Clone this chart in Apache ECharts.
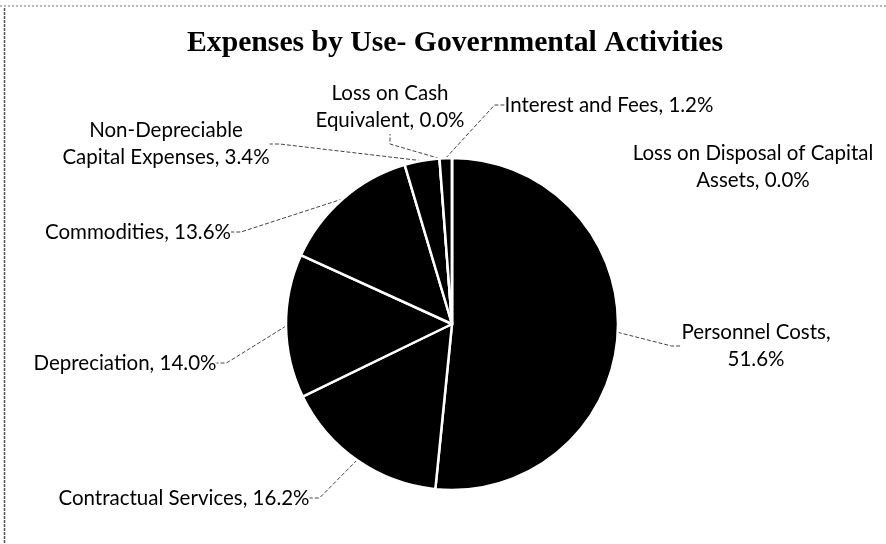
<!DOCTYPE html>
<html>
<head>
<meta charset="utf-8">
<script src="https://cdn.jsdelivr.net/npm/echarts@6/dist/echarts.min.js"></script>
<style>
  html, body { margin: 0; padding: 0; background: #fff; }
  #chart { width: 886px; height: 544px; }
</style>
</head>
<body>
<div id="chart"></div>
<script>
// Expense categories, in clockwise order starting at 12 o'clock
var categories = [
  'Personnel Costs,',
  'Contractual Services,',
  'Depreciation,',
  'Commodities,',
  'Non-Depreciable\nCapital Expenses,',
  'Loss on Cash\nEquivalent,',
  'Interest and Fees,',
  'Loss on Disposal of Capital\nAssets,'
];
// Share of total expenses, percent
var shares = [51.6, 16.2, 14.0, 13.6, 3.4, 0.0, 1.2, 0.0];

// Where each label block sits (centre of the text), by category index
var labelSpots = [
  [756, 346], [184, 498], [125, 363], [138, 232],
  [166, 144], [390, 107], [609, 105], [753, 167]
];
// Personnel Costs label puts its value on a second line
function labelText(i) {
  var v = shares[i].toFixed(1) + '%';
  if (i === 0) return categories[i] + '\n' + v;
  return categories[i] + ' ' + v;
}

var chart = echarts.init(document.getElementById('chart'), null, { renderer: 'canvas' });

var option = {
  backgroundColor: '#ffffff',
  animation: false,
  title: {
    text: 'Expenses by Use- Governmental Activities',
    left: 182,
    top: 23,
    textStyle: {
      fontFamily: 'Liberation Serif',
      fontWeight: 'bold',
      fontSize: 29.7,
      color: '#000'
    }
  },
  graphic: [
    { type: 'line', shape: { x1: 0, y1: 6, x2: 886, y2: 6 },
      style: { stroke: '#777', lineWidth: 1, lineDash: [2, 2] } },
    { type: 'line', shape: { x1: 4.5, y1: 8, x2: 4.5, y2: 544 },
      style: { stroke: '#555', lineWidth: 1.5, lineDash: [3, 1] } }
  ],
  series: [{
    type: 'pie',
    center: [452, 324],
    radius: 166,
    startAngle: 90,
    clockwise: true,
    avoidLabelOverlap: false,
    itemStyle: { color: '#000', borderColor: '#fff', borderWidth: 2.5 },
    label: {
      show: true,
      color: '#000',
      fontFamily: 'Lato',
      fontSize: 20.5,
      lineHeight: 27,
      align: 'center',
      formatter: function (p) { return labelText(p.dataIndex); }
    },
    labelLine: {
      show: true,
      length: 10,
      length2: 10,
      lineStyle: { color: '#444', width: 1, type: [4, 2] }
    },
    labelLayout: function (p) {
      var s = labelSpots[p.dataIndex];
      return {
        x: s[0], y: s[1],
        align: 'center', verticalAlign: 'middle',
        hideOverlap: false, moveOverlap: null
      };
    },
    emphasis: { disabled: true },
    data: shares.map(function (v, i) {
      var d = { name: categories[i], value: v };
      if (i === 7) d.labelLine = { show: false };
      return d;
    })
  }]
};

chart.setOption(option);
</script>
</body>
</html>
